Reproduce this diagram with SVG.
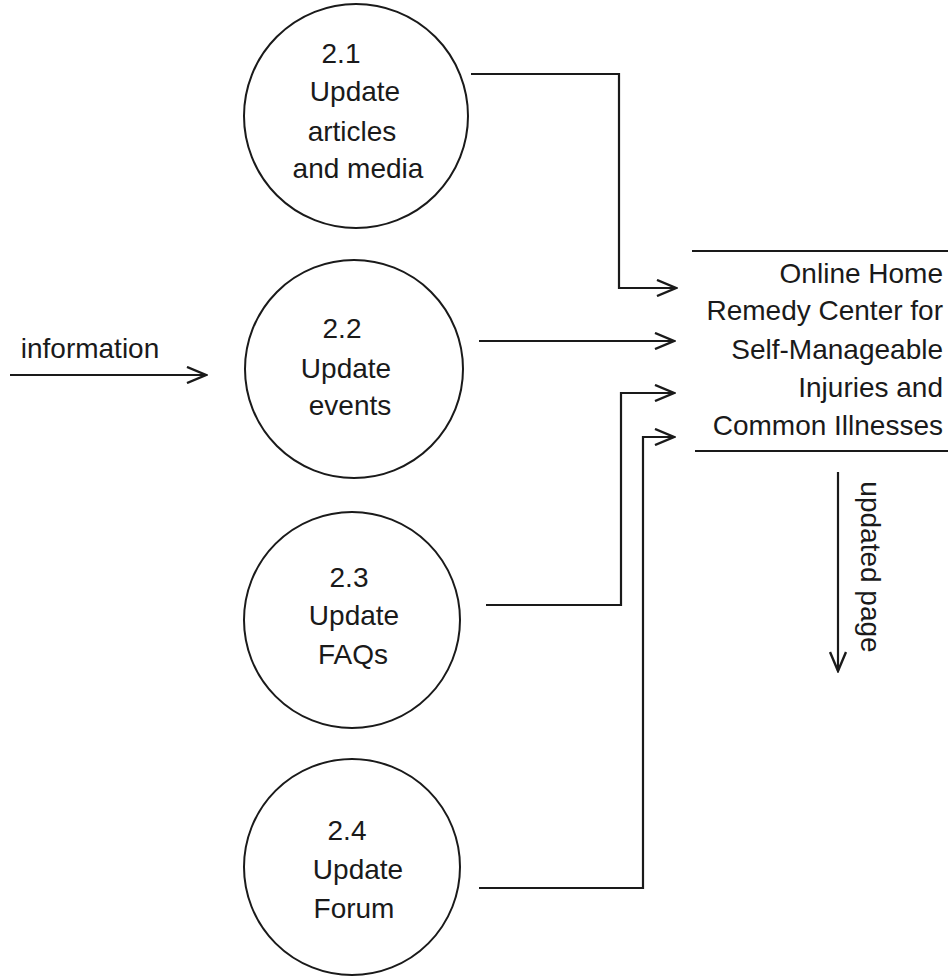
<svg xmlns="http://www.w3.org/2000/svg" width="951" height="977" viewBox="0 0 951 977">
<style>
.c{fill:#fff;stroke:#1a1a1a;stroke-width:2}
.l{fill:none;stroke:#1a1a1a;stroke-width:2.2}
.t{font-family:"Liberation Sans",Arial,sans-serif;font-size:28px;fill:#1a1a1a;text-anchor:middle}
.r{text-anchor:end}
</style>
<defs>
<marker id="a" viewBox="0 0 22 18" refX="20" refY="9" markerWidth="22" markerHeight="18" markerUnits="userSpaceOnUse" orient="auto">
<path d="M1,1 L20,9 L1,17" fill="none" stroke="#1a1a1a" stroke-width="2.4"/>
</marker>
</defs>
<rect width="951" height="977" fill="#fff"/>
<g id="connectors">
<path class="l" d="M471,74 H619 V288 H676" marker-end="url(#a)"/>
<path class="l" d="M479,341 H674" marker-end="url(#a)"/>
<path class="l" d="M486,605 H621 V393 H674" marker-end="url(#a)"/>
<path class="l" d="M479,888 H643 V437 H674" marker-end="url(#a)"/>
<path class="l" d="M10,375 H206" marker-end="url(#a)"/>
<text class="t" x="90" y="358">information</text>
<path class="l" d="M838,472 V671" marker-end="url(#a)"/>
<text class="t" x="0" y="0" transform="translate(861,567) rotate(90)">updated page</text>
</g>
<g id="p21">
<circle class="c" cx="356" cy="116" r="112"/>
<text class="t" x="341" y="63">2.1</text>
<text class="t" x="355" y="101">Update</text>
<text class="t" x="352" y="141">articles</text>
<text class="t" x="358" y="178">and media</text>
</g>
<g id="p22">
<circle class="c" cx="354" cy="369" r="109"/>
<text class="t" x="342" y="338">2.2</text>
<text class="t" x="346" y="378">Update</text>
<text class="t" x="350" y="415">events</text>
</g>
<g id="p23">
<circle class="c" cx="352" cy="620" r="108"/>
<text class="t" x="349" y="587">2.3</text>
<text class="t" x="354" y="625">Update</text>
<text class="t" x="353" y="664">FAQs</text>
</g>
<g id="p24">
<circle class="c" cx="352" cy="867" r="108"/>
<text class="t" x="347" y="840">2.4</text>
<text class="t" x="358" y="879">Update</text>
<text class="t" x="354" y="918">Forum</text>
</g>
<g id="store">
<path class="l" d="M692,251 H948 M695,451 H948"/>
<text class="t r" x="943" y="283">Online Home</text>
<text class="t r" x="943" y="320">Remedy Center for</text>
<text class="t r" x="943" y="359">Self-Manageable</text>
<text class="t r" x="943" y="397">Injuries and</text>
<text class="t r" x="943" y="435">Common Illnesses</text>
</g>
</svg>
